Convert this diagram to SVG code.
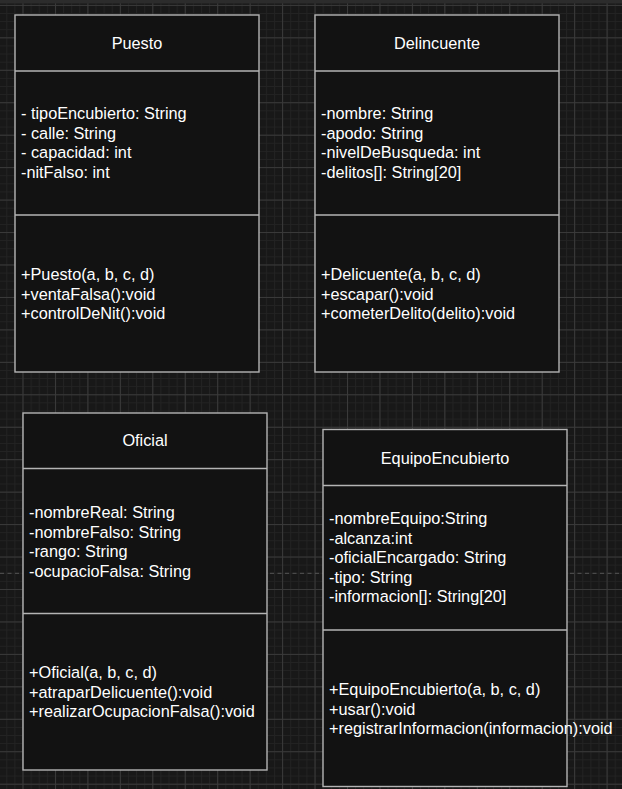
<svg xmlns="http://www.w3.org/2000/svg" width="622" height="789" viewBox="0 0 622 789">
<defs>
<pattern id="minor" patternUnits="userSpaceOnUse" x="22.5" y="4.9" width="8.1125" height="8.1125">
<path d="M0 0.5H8.1125M0.5 0V8.1125" fill="none" stroke="#232323" stroke-width="1"/>
</pattern>
<pattern id="major" patternUnits="userSpaceOnUse" x="22.5" y="4.9" width="32.45" height="32.45">
<path d="M0 0.5H32.45M0.5 0V32.45" fill="none" stroke="#3a3a3a" stroke-width="1"/>
</pattern>
<style>
.box{fill:#121212;stroke:#b4b4b4;stroke-width:1.4}
.div{stroke:#b4b4b4;stroke-width:1.4}
text{font-family:"Liberation Sans",Arial,sans-serif;font-size:16.3px;fill:#ffffff}
.t{text-anchor:middle}
</style>
</defs>
<rect width="622" height="789" fill="#181818"/>
<rect width="622" height="789" fill="url(#minor)"/>
<rect width="622" height="789" fill="url(#major)"/>
<rect width="622" height="3.5" fill="#2c2c2c"/>
<line x1="0" y1="573.3" x2="622" y2="573.3" stroke="#555" stroke-width="1" stroke-dasharray="4 3.5"/>
<g id="connectors"></g>
<g id="Puesto">
<rect class="box" x="15" y="15" width="244" height="357"/>
<line class="div" x1="15" y1="71" x2="259" y2="71"/>
<line class="div" x1="15" y1="215" x2="259" y2="215"/>
<text class="t" x="137" y="48.5">Puesto</text>
<text x="21" y="119">- tipoEncubierto: String</text>
<text x="21" y="138.5">- calle: String</text>
<text x="21" y="158">- capacidad: int</text>
<text x="21" y="177.5">-nitFalso: int</text>
<text x="21" y="280">+Puesto(a, b, c, d)</text>
<text x="21" y="299.5">+ventaFalsa():void</text>
<text x="21" y="319">+controlDeNit():void</text>
</g>
<g id="Delincuente">
<rect class="box" x="315" y="15" width="244" height="357"/>
<line class="div" x1="315" y1="71" x2="559" y2="71"/>
<line class="div" x1="315" y1="215" x2="559" y2="215"/>
<text class="t" x="437" y="48.5">Delincuente</text>
<text x="321" y="119">-nombre: String</text>
<text x="321" y="138.5">-apodo: String</text>
<text x="321" y="158">-nivelDeBusqueda: int</text>
<text x="321" y="177.5">-delitos[]: String[20]</text>
<text x="321" y="280">+Delicuente(a, b, c, d)</text>
<text x="321" y="299.5">+escapar():void</text>
<text x="321" y="319">+cometerDelito(delito):void</text>
</g>
<g id="Oficial">
<rect class="box" x="23" y="413" width="244" height="357"/>
<line class="div" x1="23" y1="468.5" x2="267" y2="468.5"/>
<line class="div" x1="23" y1="613.5" x2="267" y2="613.5"/>
<text class="t" x="145" y="446">Oficial</text>
<text x="29" y="518">-nombreReal: String</text>
<text x="29" y="537.5">-nombreFalso: String</text>
<text x="29" y="557">-rango: String</text>
<text x="29" y="576.5">-ocupacioFalsa: String</text>
<text x="29" y="678">+Oficial(a, b, c, d)</text>
<text x="29" y="697.5">+atraparDelicuente():void</text>
<text x="29" y="717">+realizarOcupacionFalsa():void</text>
</g>
<g id="EquipoEncubierto">
<rect class="box" x="323" y="429.5" width="244" height="357"/>
<line class="div" x1="323" y1="485.5" x2="567" y2="485.5"/>
<line class="div" x1="323" y1="630" x2="567" y2="630"/>
<text class="t" x="445" y="463.5">EquipoEncubierto</text>
<text x="329" y="524">-nombreEquipo:String</text>
<text x="329" y="543.5">-alcanza:int</text>
<text x="329" y="563">-oficialEncargado: String</text>
<text x="329" y="582.5">-tipo: String</text>
<text x="329" y="602">-informacion[]: String[20]</text>
<text x="329" y="695">+EquipoEncubierto(a, b, c, d)</text>
<text x="329" y="714.5">+usar():void</text>
<text x="329" y="734">+registrarInformacion(informacion):void</text>
</g>
</svg>
